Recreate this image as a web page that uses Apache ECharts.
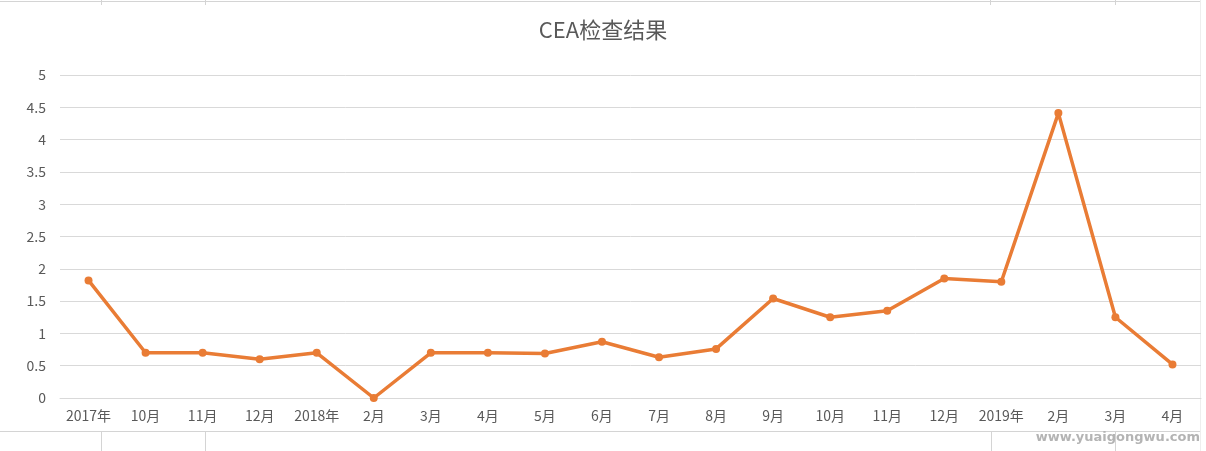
<!DOCTYPE html>
<html><head><meta charset="utf-8">
<script src="https://cdn.jsdelivr.net/npm/echarts@6/dist/echarts.min.js"></script>
<style>html,body{margin:0;padding:0;background:#fff}#c{width:1206px;height:451px}</style>
</head><body><div id="c"></div>
<script>
const categories = ['2017年','10月','11月','12月','2018年','2月','3月','4月','5月','6月','7月','8月','9月','10月','11月','12月','2019年','2月','3月','4月'];
const ceaValues = [1.82,0.70,0.70,0.60,0.70,0.00,0.70,0.70,0.69,0.87,0.63,0.76,1.54,1.25,1.35,1.85,1.80,4.41,1.25,0.52];
const yTicks = [0,0.5,1,1.5,2,2.5,3,3.5,4,4.5,5];
const titleText = 'CEA检查结果';
const watermark = 'www.yuaigongwu.com';

const font = '"Noto Sans CJK SC", "Open Sans", sans-serif';
const chart = echarts.init(document.getElementById('c'));
const sheetLine = {stroke:'#d4d4d4', lineWidth:1};
chart.setOption({
  animation:false,
  backgroundColor:'#fff',
  title:{text:titleText,left:'center',top:14,textStyle:{color:'#595959',fontSize:22,fontWeight:'normal',fontFamily:font}},
  grid:{left:60,right:5,top:75,bottom:53},
  xAxis:{type:'category',data:categories,boundaryGap:true,
    axisLine:{lineStyle:{color:'#d9d9d9'}},axisTick:{show:false},
    axisLabel:{color:'#595959',fontSize:14,fontFamily:font,margin:11,interval:0}},
  yAxis:{type:'value',min:0,max:5,interval:0.5,
    axisLine:{show:false},axisTick:{show:false},
    splitLine:{lineStyle:{color:'#d9d9d9'}},
    axisLabel:{color:'#595959',fontSize:14,fontFamily:font,margin:14,
      formatter:v=>yTicks.includes(v)?String(v):''}},
  series:[{type:'line',data:ceaValues,symbol:'circle',symbolSize:8,
    lineStyle:{color:'#E97C35',width:3.5},itemStyle:{color:'#E97C35'}}],
  graphic:[
    {type:'line',shape:{x1:0,y1:1.5,x2:1200,y2:1.5},style:sheetLine,silent:true},
    {type:'line',shape:{x1:101.5,y1:0,x2:101.5,y2:5},style:sheetLine,silent:true},
    {type:'line',shape:{x1:205.5,y1:0,x2:205.5,y2:5},style:sheetLine,silent:true},
    {type:'line',shape:{x1:990.5,y1:0,x2:990.5,y2:5},style:sheetLine,silent:true},
    {type:'line',shape:{x1:1115.5,y1:0,x2:1115.5,y2:5},style:sheetLine,silent:true},
    {type:'line',shape:{x1:0,y1:431.5,x2:1200,y2:431.5},style:sheetLine,silent:true},
    {type:'line',shape:{x1:101.5,y1:431,x2:101.5,y2:451},style:sheetLine,silent:true},
    {type:'line',shape:{x1:205.5,y1:431,x2:205.5,y2:451},style:sheetLine,silent:true},
    {type:'line',shape:{x1:991.5,y1:431,x2:991.5,y2:451},style:sheetLine,silent:true},
    {type:'line',shape:{x1:1115.5,y1:431,x2:1115.5,y2:451},style:sheetLine,silent:true},
    {type:'line',shape:{x1:1200.5,y1:0,x2:1200.5,y2:451},style:{stroke:'#eeeeee',lineWidth:1},silent:true},
    {type:'text',right:6,top:431,style:{text:watermark,fill:'#b4b4b4',font:'bold 13px "DejaVu Sans", sans-serif'},silent:true}
  ]
});
</script></body></html>
